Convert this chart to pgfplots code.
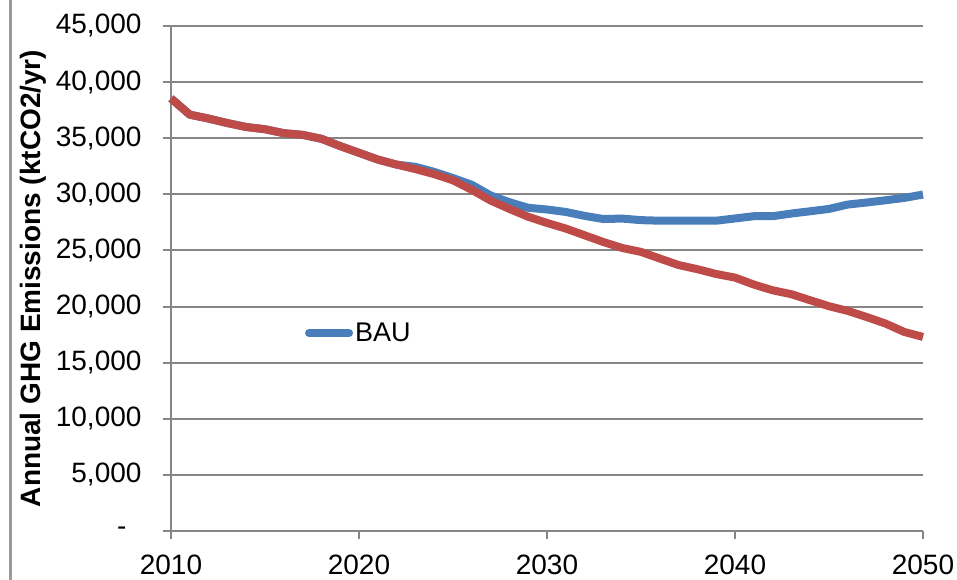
\documentclass[border=0pt]{standalone}
\usepackage{pgfplots}
\pgfplotsset{compat=1.18}
\usepackage{pgfplotstable}
\usepackage{fontspec}
\setmainfont{Liberation Sans}

\definecolor{baublue}{HTML}{4A7EBB}
\definecolor{altred}{HTML}{BE4B48}
\definecolor{gridgray}{HTML}{868686}
\definecolor{framegray}{HTML}{9A9A9A}

% year, BAU, alternative scenario (ktCO2/yr)
\pgfplotstableread{
year bau alt
2010 38550 38550
2011 37100 37100
2012 36750 36750
2013 36350 36350
2014 36000 36000
2015 35800 35800
2016 35450 35450
2017 35300 35300
2018 34950 34950
2019 34300 34300
2020 33700 33700
2021 33100 33100
2022 32650 32650
2023 32450 32250
2024 32000 31800
2025 31450 31250
2026 30850 30400
2027 29900 29450
2028 29300 28700
2029 28800 28000
2030 28650 27450
2031 28430 26950
2032 28080 26350
2033 27800 25750
2034 27840 25220
2035 27700 24870
2036 27650 24280
2037 27650 23700
2038 27650 23330
2039 27650 22900
2040 27850 22580
2041 28050 21960
2042 28050 21450
2043 28290 21100
2044 28490 20560
2045 28700 20030
2046 29090 19610
2047 29270 19070
2048 29470 18490
2049 29680 17740
2050 29980 17290
}\emissions

\begin{document}
\begin{tikzpicture}
\path[use as bounding box] (-171pt,-49pt) rectangle (786pt,531pt);
\draw[framegray, line width=3pt] (-160pt,-49pt) -- (-160pt,531pt);
\begin{axis}[
  at={(0pt,0pt)}, anchor=south west,
  scale only axis,
  width=752pt, height=505pt,
  xmin=2010, xmax=2050,
  ymin=0, ymax=45000,
  scaled ticks=false,
  axis x line*=bottom,
  axis y line*=left,
  axis line style={gridgray, line width=2pt, -},
  xtick={2010,2020,2030,2040,2050},
  xticklabels={2010,2020,2030,2040,2050},
  ytick={0,5000,10000,15000,20000,25000,30000,35000,40000,45000},
  yticklabels={{\raisebox{-3pt}{-}\rule{15pt}{0pt}},{5,000},{10,000},{15,000},{20,000},{25,000},{30,000},{35,000},{40,000},{45,000}},
  tick align=outside,
  major tick length=8pt,
  tick style={gridgray, line width=2pt},
  ymajorgrids,
  grid style={gridgray, line width=2pt},
  tick label style={font=\fontsize{28}{32}\selectfont},
  yticklabel style={xshift=-18pt},
  xticklabel style={yshift=-12pt},
  ylabel={Annual GHG Emissions (ktCO2/yr)},
  ylabel style={font=\fontsize{28}{32}\selectfont\bfseries,
    at={(axis description cs:-0.1835,0.5)}, anchor=center},
  legend style={draw=none, fill=none, at={(axis description cs:0.178,0.392)},
    anchor=west, font=\fontsize{27}{30}\selectfont, inner sep=0pt},
  legend cell align=left,
  legend image code/.code={\draw[#1, line cap=round] (0pt,0pt) -- (40pt,0pt);},
  clip=false,
]
\addplot[baublue, line width=8pt, line join=round] table[x=year, y=bau] {\emissions};
\addlegendentry{BAU}
\addplot[altred, line width=8pt, line join=round, forget plot] table[x=year, y=alt] {\emissions};
\end{axis}
\end{tikzpicture}
\end{document}
